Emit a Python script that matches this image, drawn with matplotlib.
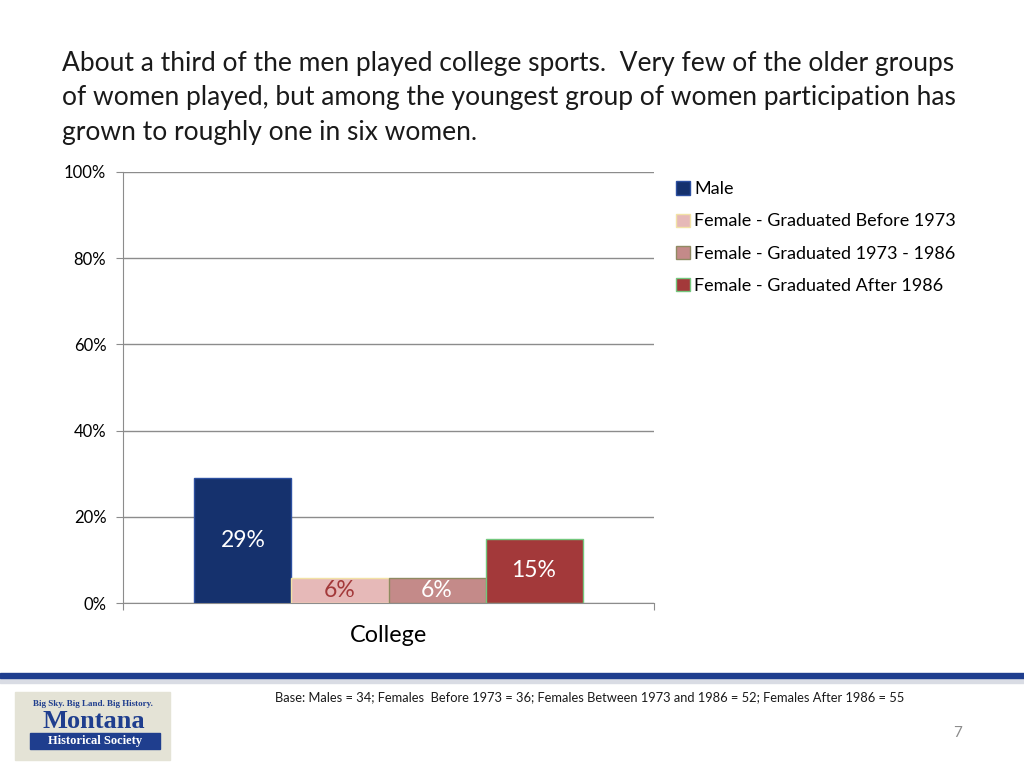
import numpy as np
import matplotlib
matplotlib.use("Agg")
import matplotlib.pyplot as plt
from matplotlib.patches import Rectangle

plt.rcParams['font.family'] = ['Lato', 'DejaVu Sans']

# --- Dados ---
categories = ['College']
series = ['Male', 'Female - Graduated Before 1973',
          'Female - Graduated 1973 - 1986', 'Female - Graduated After 1986']
values = [29.0, 5.8, 5.9, 14.9]
fill_colors = ['#15316D', '#E6B9B8', '#C48A89', '#A3393A']
edge_colors = ['#2C4FA0', '#F2E2A6', '#8F8A62', '#74C77E']
label_colors = ['white', '#A3393A', 'white', 'white']
yticks = [0, 20, 40, 60, 80, 100]

title = ("About a third of the men played college sports.  Very few of the older groups\n"
         "of women played, but among the youngest group of women participation has\n"
         "grown to roughly one in six women.")
base_note = ("Base: Males = 34; Females  Before 1973 = 36; Females Between 1973 and 1986 = 52; "
             "Females After 1986 = 55")

fig = plt.figure(figsize=(10.24, 7.68), dpi=100)
fig.patch.set_facecolor('white')

fig.text(62 / 1024, 1 - 51 / 768, title, fontsize=19, va='top', ha='left',
         color='#1a1a1a', linespacing=1.47)

ax = fig.add_axes([123 / 1024, 1 - 603 / 768, 531 / 1024, 431 / 768])
width = 0.1827
center = 0.5
for i, (name, v) in enumerate(zip(series, values)):
    x = center + (i - 1.5) * width
    ax.bar(x, v, width=width, color=fill_colors[i], edgecolor=edge_colors[i],
           linewidth=1.0, label=name, zorder=3)
    ax.text(x, v / 2, f'{v:.0f}%', ha='center', va='center', fontsize=16.5,
            color=label_colors[i], zorder=4)

ax.set_xlim(0, 1)
ax.set_ylim(0, 100)
ax.set_yticks(yticks)
ax.set_yticklabels([f'{t}%' for t in yticks], fontsize=12)
ax.yaxis.grid(True, color='#8c8c8c', linewidth=1.0, zorder=0)
ax.set_xticks([0, 1])
ax.set_xticklabels(['', ''])
ax.tick_params(axis='x', length=5, color='#8c8c8c', direction='out')
ax.tick_params(axis='y', length=5, color='#8c8c8c', direction='out', pad=7)
ax.text(center, -5.0, categories[0], ha='center', va='top', fontsize=16.8,
        transform=ax.transData)
for s in ['top', 'right']:
    ax.spines[s].set_visible(False)
for s in ['left', 'bottom']:
    ax.spines[s].set_color('#8c8c8c')

leg = fig.legend(loc='upper left', bbox_to_anchor=(660 / 1024, 1 - 165 / 768),
                 frameon=False, fontsize=13, handlelength=0.75, handleheight=0.75,
                 handletextpad=0.25, labelspacing=0.9)

# --- Rodapé ---
fig.add_artist(Rectangle((0, 1 - 678 / 768), 1, 5 / 768, transform=fig.transFigure,
                         color='#1F3E8E', zorder=5))
fig.add_artist(Rectangle((0, 1 - 683 / 768), 1, 5 / 768, transform=fig.transFigure,
                         color='#D9DCE4', zorder=4))
fig.text(275 / 1024, 1 - 697 / 768, base_note, fontsize=9.3, va='center', ha='left',
         color='#1a1a1a')
fig.text(958 / 1024, 1 - 733 / 768, '7', fontsize=11, va='center', ha='center',
         color='#8c8c8c')

# Logo
fig.add_artist(Rectangle((15 / 1024, 1 - 760 / 768), 155 / 1024, 68 / 768,
                         transform=fig.transFigure, color='#E4E3D6', zorder=5))
fig.add_artist(Rectangle((30 / 1024, 1 - 749 / 768), 130 / 1024, 16 / 768,
                         transform=fig.transFigure, color='#1F3E8E', zorder=6))
fig.text(93 / 1024, 1 - 704 / 768, 'Big Sky. Big Land. Big History.', fontsize=6.5,
         family='Liberation Serif', weight='bold', color='#1F3E8E', ha='center',
         va='center', zorder=7)
fig.text(94 / 1024, 1 - 721 / 768, 'Montana', fontsize=19, family='Liberation Serif',
         weight='bold', color='#1F3E8E', ha='center', va='center', zorder=7)
fig.text(95 / 1024, 1 - 741 / 768, 'Historical Society', fontsize=9,
         family='Liberation Serif', weight='bold', color='white', ha='center',
         va='center', zorder=7)

fig.savefig('out.png', dpi=100)
